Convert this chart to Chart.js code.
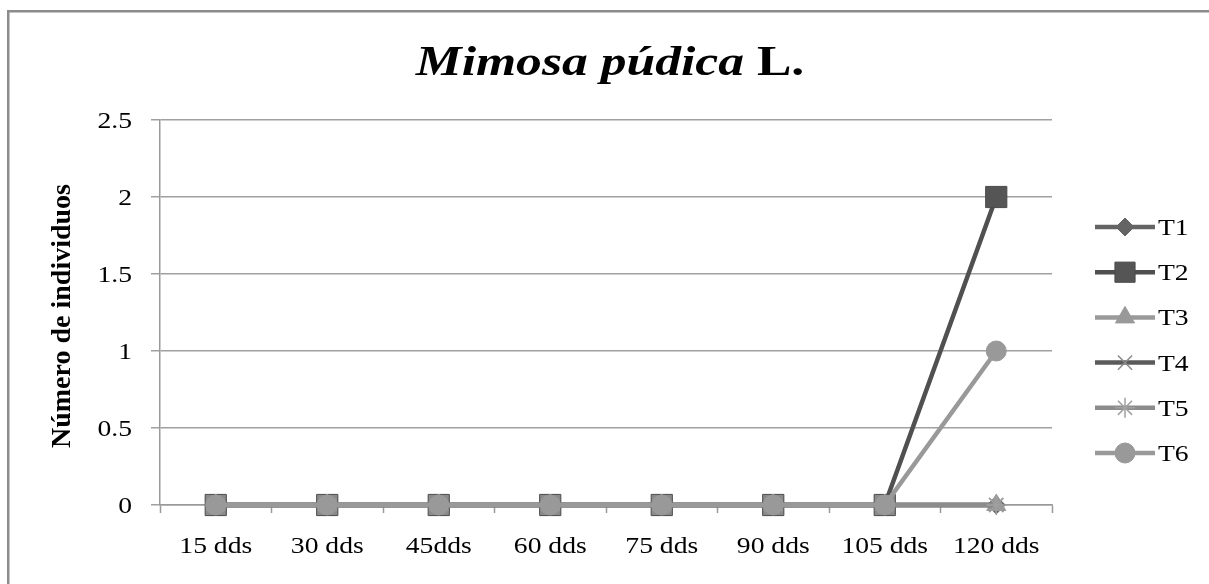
<!DOCTYPE html>
<html>
<head>
<meta charset="utf-8">
<script src="https://cdn.jsdelivr.net/npm/chart.js@4.4.1/dist/chart.umd.min.js"></script>
<style>
html,body{margin:0;padding:0;background:#fff;}
canvas{display:block;}
</style>
</head>
<body>
<canvas id="c" width="1209" height="584"></canvas>
<script>
const categories = ['15 dds','30 dds','45dds','60 dds','75 dds','90 dds','105 dds','120 dds'];
const seriesNames = ['T1','T2','T3','T4','T5','T6'];
const T1 = [0,0,0,0,0,0,0,0];
const T2 = [0,0,0,0,0,0,0,2];
const T3 = [0,0,0,0,0,0,0,0];
const T4 = [0,0,0,0,0,0,0,0];
const T5 = [0,0,0,0,0,0,0,0];
const T6 = [0,0,0,0,0,0,0,1];
const yTicks = [0,0.5,1,1.5,2,2.5];
const titleItalic = 'Mimosa púdica';
const titleRest = ' L.';
const yTitle = 'Número de individuos';

const SERIF = '"Liberation Serif","Times New Roman",serif';
const HS = 1.2; // horizontal text stretch

const styles = [
  {color:'#646464', point:'rectRot', r:9, pc:'#646464', pb:'#646464', pw:1, order:6},
  {color:'#505050', point:'rect', r:15, pc:(c)=> (c.raw===0?'#8a8a8a':'#555555'), pb:'#4a4a4a', pw:1, order:5},
  {color:'#9a9a9a', point:'triangle', r:11, pc:'#999999', pb:'#999999', pw:1, order:4},
  {color:'#5a5a5a', point:'crossRot', r:10, pc:'#8a8a8a', pb:'#8a8a8a', pw:1.5, order:3},
  {color:'#8c8c8c', point:'star', r:10, pc:'#a0a0a0', pb:'#a0a0a0', pw:1.5, order:2},
  {color:'#999999', point:'circle', r:10, pc:'#999999', pb:'#999999', pw:1, order:1}
];
const values = [T1,T2,T3,T4,T5,T6];

const datasets = seriesNames.map((n,i)=>({
  label:n, data:values[i], borderColor:styles[i].color, borderWidth:4.5,
  pointStyle:styles[i].point, pointRadius:styles[i].r, pointHoverRadius:styles[i].r,
  pointBackgroundColor:styles[i].pc, pointBorderColor:styles[i].pb, pointBorderWidth:styles[i].pw,
  order:styles[i].order, tension:0, clip:false
}));

function sText(ctx, text, x, y, font, align, sx){
  ctx.save();
  ctx.font = font; ctx.fillStyle = '#000'; ctx.textBaseline = 'alphabetic';
  const w = ctx.measureText(text).width * sx;
  let left = x;
  if (align === 'center') left = x - w/2; else if (align === 'right') left = x - w;
  ctx.translate(left, y); ctx.scale(sx, 1); ctx.textAlign = 'left';
  ctx.fillText(text, 0, 0);
  ctx.restore();
  return w;
}

const decor = {
  id:'decor',
  beforeDraw(chart){
    const ctx = chart.ctx;
    ctx.save();
    ctx.fillStyle='#fff'; ctx.fillRect(0,0,chart.width,chart.height);
    ctx.strokeStyle='#8c8c8c'; ctx.lineWidth=2.5;
    ctx.strokeRect(8.25,11.25,1240,640);
    ctx.restore();
  },
  afterDraw(chart){
    const ctx = chart.ctx;
    const TF = '23px '+SERIF;
    // axis tick labels via library scales
    const xs = chart.scales.x, ys = chart.scales.y;
    xs.ticks.forEach((t,i)=>{
      sText(ctx, chart.data.labels[t.value], xs.getPixelForTick(i), 553, TF, 'center', HS);
    });
    ys.ticks.forEach((t,i)=>{
      sText(ctx, String(t.value), 132, ys.getPixelForTick(i)+8, TF, 'right', HS);
    });
    // title
    const fI = 'italic bold 43px '+SERIF, fB = 'bold 43px '+SERIF;
    ctx.save();
    ctx.font=fI; const w1=ctx.measureText(titleItalic).width*HS;
    ctx.font=fB; const w2=ctx.measureText(titleRest).width*HS;
    ctx.restore();
    const x0 = 610-(w1+w2)/2;
    sText(ctx, titleItalic, x0, 75, fI, 'left', HS);
    sText(ctx, titleRest, x0+w1, 75, fB, 'left', HS);
    // y title
    ctx.save();
    ctx.translate(70,316); ctx.rotate(-Math.PI/2);
    ctx.font='bold 28px '+SERIF; ctx.fillStyle='#000'; ctx.textAlign='center'; ctx.textBaseline='alphabetic';
    ctx.fillText(yTitle,0,0);
    ctx.restore();
    // legend
    ctx.save();
    chart.data.datasets.forEach((ds,i)=>{
      const y = 227 + i*45.2;
      ctx.strokeStyle=ds.borderColor; ctx.lineWidth=4.5; ctx.lineCap='butt';
      ctx.beginPath(); ctx.moveTo(1095,y); ctx.lineTo(1155,y); ctx.stroke();
      const pc = typeof ds.pointBackgroundColor==='function' ? '#555555' : ds.pointBackgroundColor;
      ctx.fillStyle=pc; ctx.strokeStyle=ds.pointBorderColor; ctx.lineWidth=ds.pointBorderWidth;
      Chart.helpers.drawPoint(ctx,{pointStyle:ds.pointStyle, radius:ds.pointRadius*(ds.pointStyle==='rect'?0.95:1), rotation:0, borderWidth:ds.pointBorderWidth}, 1125, y);
      sText(ctx, ds.label, 1158, y+8, TF, 'left', HS);
    });
    ctx.restore();
  }
};

new Chart(document.getElementById('c'),{
  type:'line',
  data:{labels:categories, datasets},
  options:{
    responsive:false, animation:false, devicePixelRatio:1,
    layout:{padding:{top:120,right:157,left:0,bottom:0}},
    plugins:{legend:{display:false}, title:{display:false}, tooltip:{enabled:false}},
    scales:{
      x:{
        offset:true,
        grid:{display:true, drawOnChartArea:false, offset:true, color:'#999', tickLength:8, tickWidth:1.5},
        border:{display:true, color:'#999', width:1.5},
        ticks:{display:false, autoSkip:false, maxRotation:0},
        afterFit(s){ s.height = 79; }
      },
      y:{
        min:0, max:2.5,
        afterBuildTicks(s){ s.ticks = yTicks.map(v=>({value:v})); },
        grid:{color:'#a0a0a0', lineWidth:1.5, tickLength:9, drawTicks:true},
        border:{display:true, color:'#999', width:1.5},
        ticks:{display:false},
        afterFit(s){ s.width = 160; }
      }
    }
  },
  plugins:[decor]
});
</script>
</body>
</html>
